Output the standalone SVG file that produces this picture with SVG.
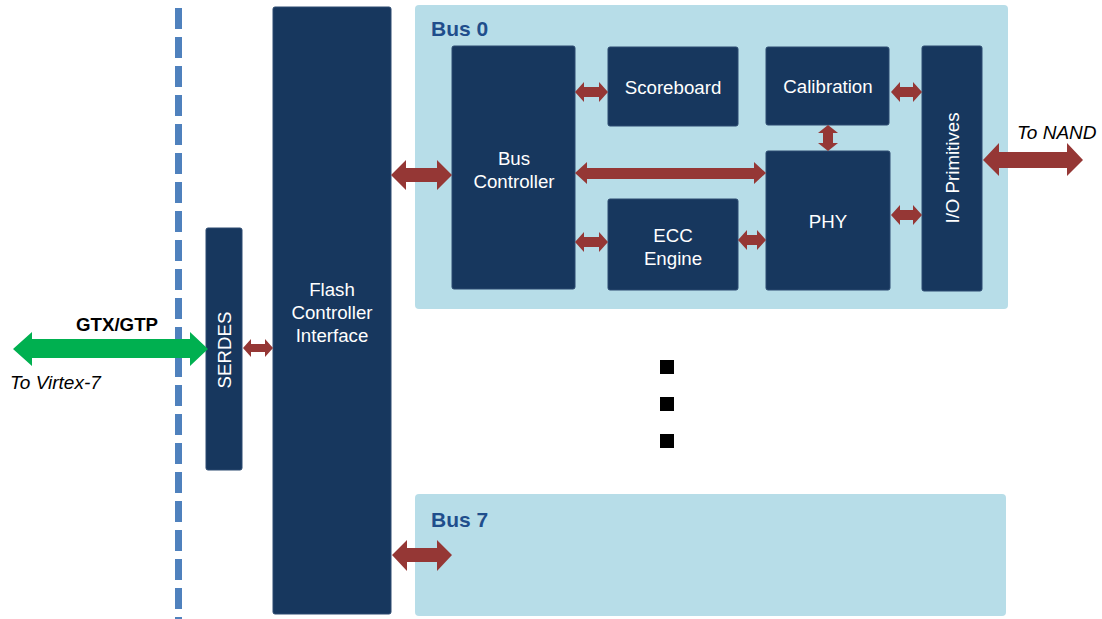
<svg xmlns="http://www.w3.org/2000/svg" width="1102" height="619" viewBox="0 0 1102 619">
<style>
.panel{fill:#b7dde8}
.blk{fill:#17375e;stroke:#2c4a70;stroke-width:1}
.wt{fill:#ffffff;font-family:"Liberation Sans",Arial,sans-serif;font-size:18.7px;text-anchor:middle}
.bus{fill:#1f4e8c;font-family:"Liberation Sans",Arial,sans-serif;font-size:21px;font-weight:bold}
.it{fill:#000;font-family:"Liberation Sans",Arial,sans-serif;font-size:19px;font-style:italic}
.red{fill:#953735}
</style>
<rect width="1102" height="619" fill="#ffffff"/>
<line x1="178.5" y1="8" x2="178.5" y2="619" stroke="#4f81bd" stroke-width="7" stroke-dasharray="21 8"/>
<g id="bus0"><rect class="panel" x="415" y="5" width="593" height="304" rx="4"/><text class="bus" x="431" y="36">Bus 0</text></g>
<g id="bus7"><rect class="panel" x="415" y="494" width="591" height="122" rx="4"/><text class="bus" x="431" y="527">Bus 7</text></g>
<g id="fci"><rect class="blk" x="273" y="7" width="118" height="607" rx="2"/><text class="wt" x="332" y="296">Flash</text><text class="wt" x="332" y="319">Controller</text><text class="wt" x="332" y="342">Interface</text></g>
<g id="serdes"><rect class="blk" x="206" y="228" width="36" height="242" rx="2"/><text class="wt" transform="translate(231,350) rotate(-90)">SERDES</text></g>
<g id="busctrl"><rect class="blk" x="452" y="46" width="123" height="243" rx="2"/><text class="wt" x="514" y="165">Bus</text><text class="wt" x="514" y="188">Controller</text></g>
<g id="scoreboard"><rect class="blk" x="608" y="47" width="130" height="79" rx="2"/><text class="wt" x="673" y="94">Scoreboard</text></g>
<g id="calibration"><rect class="blk" x="766" y="47" width="123" height="78" rx="2"/><text class="wt" x="828" y="93">Calibration</text></g>
<g id="ecc"><rect class="blk" x="608" y="199" width="130" height="91" rx="2"/><text class="wt" x="673" y="242">ECC</text><text class="wt" x="673" y="265">Engine</text></g>
<g id="phy"><rect class="blk" x="766" y="151" width="124" height="139" rx="2"/><text class="wt" x="828" y="228">PHY</text></g>
<g id="io"><rect class="blk" x="922" y="46" width="60" height="245" rx="2"/><text class="wt" transform="translate(959,168) rotate(-90)">I/O Primitives</text></g>
<g id="dots"><rect x="660" y="360" width="14" height="14" fill="#000"/><rect x="660" y="397" width="14" height="14" fill="#000"/><rect x="660" y="434" width="14" height="14" fill="#000"/></g>
<g id="labels">
<text x="117" y="331" font-family="Liberation Sans,Arial,sans-serif" font-size="18.7" font-weight="bold" text-anchor="middle">GTX/GTP</text>
<text class="it" x="10" y="389">To Virtex-7</text>
<text class="it" x="1017" y="139">To NAND</text>
</g>
<g id="connectors">
<polygon fill="#00b050" points="13,349 32,332 32,339 190,339 190,332 208,349 190,366 190,358 32,358 32,366"/>
<polygon class="red" points="243,348 251,339 251,344 265,344 265,339 273,348 265,357 265,352 251,352 251,357"/>
<polygon class="red" points="391,175 406,160 406,168 437,168 437,160 452,175 437,190 437,182 406,182 406,190"/>
<polygon class="red" points="392,555 407,540 407,548 437,548 437,540 452,555 437,571 437,562 407,562 407,571"/>
<polygon class="red" points="575,92 584,82 584,87 599,87 599,82 608,92 599,102 599,97 584,97 584,102"/>
<polygon class="red" points="575,173 587,162 587,168 754,168 754,162 766,173 754,184 754,179 587,179 587,184"/>
<polygon class="red" points="575,242 584,232 584,237 599,237 599,232 608,242 599,252 599,247 584,247 584,252"/>
<polygon class="red" points="738,240 747,230 747,235 757,235 757,230 766,240 757,250 757,245 747,245 747,250"/>
<polygon class="red" points="891,92 900,82 900,87 913,87 913,82 922,92 913,102 913,97 900,97 900,102"/>
<polygon class="red" points="891,215 900,205 900,210 913,210 913,205 922,215 913,225 913,220 900,220 900,225"/>
<polygon class="red" points="828,125 838,133 833,133 833,143 838,143 828,151 818,143 823,143 823,133 818,133"/>
<polygon class="red" points="983,160 999,143 999,152 1067,152 1067,143 1083,160 1067,176 1067,168 999,168 999,176"/>
</g>
</svg>
